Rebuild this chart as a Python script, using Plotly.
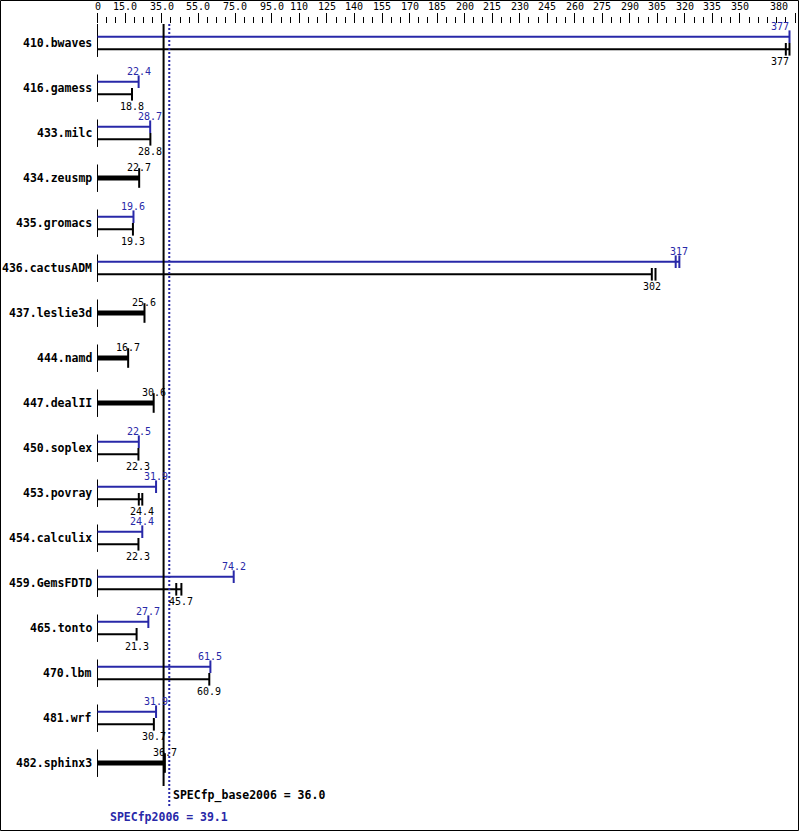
import plotly.graph_objects as go

# ---------------- data ----------------
benchmarks = ["410.bwaves", "416.gamess", "433.milc", "434.zeusmp", "435.gromacs",
              "436.cactusADM", "437.leslie3d", "444.namd", "447.dealII", "450.soplex",
              "453.povray", "454.calculix", "459.GemsFDTD", "465.tonto", "470.lbm",
              "481.wrf", "482.sphinx3"]
peak = [377, 22.4, 28.7, None, 19.6, 317, None, None, None, 22.5, 31.9, 24.4,
        74.2, 27.7, 61.5, 31.9, None]
base = [377, 18.8, 28.8, 22.7, 19.3, 302, 25.6, 16.7, 30.6, 22.3, 24.4, 22.3,
        45.7, 21.3, 60.9, 30.7, 36.7]
# other run results (shown as extra end ticks)
peak_other = [None, None, None, None, None, 315, None, None, None, None, None, None,
              None, None, None, None, None]
base_other = [375, None, None, None, None, 304, None, None, None, None, 22.5, None,
              42.9, None, None, None, None]
tick_vals = [0, 15, 35, 55, 75, 95, 110, 125, 140, 155, 170, 185, 200, 215, 230, 245,
             260, 275, 290, 305, 320, 335, 350, 380]
tick_text = ["0", "15.0", "35.0", "55.0", "75.0", "95.0", "110", "125", "140", "155",
             "170", "185", "200", "215", "230", "245", "260", "275", "290", "305",
             "320", "335", "350", "380"]
base_score = 36.0
peak_score = 39.1
base_label = "SPECfp_base2006 = 36.0"
peak_label = "SPECfp2006 = 39.1"

# ---------------- style ----------------
BLUE = "#2828a8"
BLACK = "#000000"
MONO = "DejaVu Sans Mono"
W, H = 799, 831
L, R, T, B = 96, 4, 24, 0
XMIN, XMAX = -0.82, 380.0
ROW_PX = 45.0
ROW0_PX = 43.0
OFF = 0.14   # offset of peak/base bars from row centre (row units)
plot_w = W - L - R
plot_h = H - T - B
y_top = (T - ROW0_PX) / ROW_PX
y_bot = (H - B - ROW0_PX) / ROW_PX


def px_to_row(p):
    return (p - ROW0_PX) / ROW_PX


fig = go.Figure()

# row separators (vertical segments at x = 0)
sx, sy = [], []
for i, _ in enumerate(benchmarks):
    sx += [0, 0, None]
    sy += [(y_top if i == 0 else i - 0.3), i + 0.31, None]
fig.add_trace(go.Scatter(x=sx, y=sy, mode="lines", line=dict(color=BLACK, width=1),
                         hoverinfo="skip", showlegend=False))

# bars
px_, py_ = [], []          # peak bars
bx_, by_ = [], []          # base bars (paired)
tx_, ty_ = [], []          # single thick bars
pmx, pmy, bmx, bmy, smx, smy = [], [], [], [], [], []
for i, (p, b) in enumerate(zip(peak, base)):
    if p is None:
        tx_ += [0, b, None]
        ty_ += [i, i, None]
        smx.append(b)
        smy.append(i)
    else:
        px_ += [0, p, None]
        py_ += [i - OFF, i - OFF, None]
        bx_ += [0, b, None]
        by_ += [i + OFF, i + OFF, None]
        pmx.append(p)
        pmy.append(i - OFF)
        bmx.append(b)
        bmy.append(i + OFF)
        if peak_other[i] is not None:
            pmx.append(peak_other[i])
            pmy.append(i - OFF)
        if base_other[i] is not None:
            bmx.append(base_other[i])
            bmy.append(i + OFF)

fig.add_trace(go.Scatter(x=px_, y=py_, mode="lines", line=dict(color=BLUE, width=2),
                         hoverinfo="skip", showlegend=False))
fig.add_trace(go.Scatter(x=bx_, y=by_, mode="lines", line=dict(color=BLACK, width=2),
                         hoverinfo="skip", showlegend=False))
fig.add_trace(go.Scatter(x=tx_, y=ty_, mode="lines", line=dict(color=BLACK, width=5),
                         hoverinfo="skip", showlegend=False))
fig.add_trace(go.Scatter(x=pmx, y=pmy, mode="markers", cliponaxis=False,
                         marker=dict(symbol="line-ns", size=9,
                                     line=dict(color=BLUE, width=2)),
                         hoverinfo="skip", showlegend=False))
fig.add_trace(go.Scatter(x=bmx, y=bmy, mode="markers", cliponaxis=False,
                         marker=dict(symbol="line-ns", size=9,
                                     line=dict(color=BLACK, width=2)),
                         hoverinfo="skip", showlegend=False))
fig.add_trace(go.Scatter(x=smx, y=smy, mode="markers", cliponaxis=False,
                         marker=dict(symbol="line-ns", size=14,
                                     line=dict(color=BLACK, width=2)),
                         hoverinfo="skip", showlegend=False))

annotations = []


def value_ann(x, y, text, color, yshift):
    if x > 370:
        anchor, xs = "right", 2
    else:
        anchor, xs = "center", 0
    annotations.append(dict(x=x, y=y, xref="x", yref="y", text=text, showarrow=False,
                            xanchor=anchor, yanchor="middle", xshift=xs, yshift=yshift,
                            font=dict(family=MONO, size=10, color=color)))


def fmt(v):
    return f"{v:.0f}" if v >= 100 else f"{v:.1f}"


for i, (name, p, b) in enumerate(zip(benchmarks, peak, base)):
    annotations.append(dict(x=0, y=i, xref="x", yref="y", text=name, showarrow=False,
                            xanchor="right", yanchor="middle", xshift=-4,
                            font=dict(family=MONO, size=11.5, color=BLACK, weight="bold")))
    if p is None:
        value_ann(b, i, fmt(b), BLACK, 11)
    else:
        value_ann(p, i - OFF, fmt(p), BLUE, 10.5)
        value_ann(b, i + OFF, fmt(b), BLACK, -12.5)

# top axis labels
for v, t in zip(tick_vals, tick_text):
    last = v == tick_vals[-1]
    annotations.append(dict(x=v, y=(H - 7) / plot_h, xref="x", yref="paper", text=t,
                            showarrow=False, xanchor="right" if last else "center",
                            xshift=-5 if last else 0, yanchor="middle",
                            font=dict(family=MONO, size=10, color=BLACK)))

# summary labels
annotations.append(dict(x=base_score, y=px_to_row(795), xref="x", yref="y",
                        text=base_label, showarrow=False, xanchor="left", xshift=7,
                        yanchor="middle",
                        font=dict(family=MONO, size=11.5, color=BLACK, weight="bold")))
annotations.append(dict(x=peak_score, y=px_to_row(817), xref="x", yref="y",
                        text=peak_label, showarrow=False, xanchor="center",
                        yanchor="middle",
                        font=dict(family=MONO, size=11.5, color=BLUE, weight="bold")))

shapes = [
    dict(type="line", xref="x", yref="y", x0=base_score, x1=base_score,
         y0=y_top, y1=px_to_row(786), line=dict(color=BLACK, width=2)),
    dict(type="line", xref="x", yref="y", x0=peak_score, x1=peak_score,
         y0=y_top, y1=px_to_row(808), line=dict(color=BLUE, width=2, dash="2px,2px")),
    dict(type="rect", xref="paper", yref="paper",
         x0=(0.5 - L) / plot_w, x1=(W - 0.5 - L) / plot_w,
         y0=(H - B - (H - 0.5)) / plot_h, y1=(H - B - 0.5) / plot_h,
         line=dict(color=BLACK, width=1), fillcolor="rgba(0,0,0,0)", layer="above"),
]

fig.update_layout(
    width=W, height=H,
    margin=dict(l=L, r=R, t=T, b=B, pad=0),
    paper_bgcolor="white", plot_bgcolor="white",
    showlegend=False,
    annotations=annotations,
    shapes=shapes,
    xaxis=dict(range=[XMIN, XMAX], side="top", showgrid=False, zeroline=False,
               showline=False, tickmode="array", tickvals=tick_vals,
               showticklabels=False, ticks="outside", ticklen=10, tickwidth=1,
               tickcolor=BLACK,
               minor=dict(tickmode="linear", tick0=0, dtick=5, ticks="outside",
                          ticklen=6, tickwidth=1, tickcolor=BLACK, showgrid=False),
               fixedrange=True),
    yaxis=dict(range=[y_bot, y_top], visible=False, showgrid=False, zeroline=False,
               fixedrange=True),
)

fig.write_html("out.html", config={"displayModeBar": False},
               post_script="document.body.style.margin='0';document.body.style.overflow='hidden';")
